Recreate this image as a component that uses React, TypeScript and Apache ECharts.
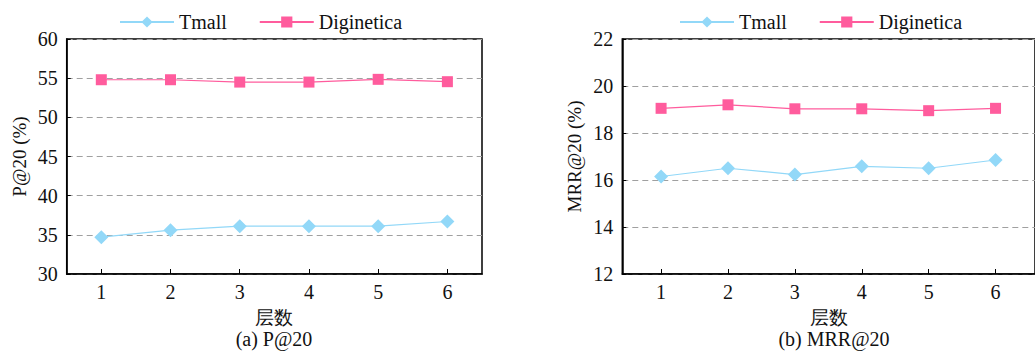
import React, { useEffect, useRef } from "react";
import * as echarts from "echarts";

const layers = [1, 2, 3, 4, 5, 6];
const seriesNames = ["Tmall", "Diginetica"];
const pTmall = [34.7, 35.6, 36.1, 36.1, 36.1, 36.7];
const pDiginetica = [54.8, 54.8, 54.5, 54.5, 54.85, 54.55];
const mrrTmall = [16.15, 16.5, 16.23, 16.58, 16.5, 16.85];
const mrrDiginetica = [19.05, 19.2, 19.03, 19.03, 18.95, 19.05];
const xName = "层数";
const captions = ["(a) P@20", "(b) MRR@20"];
const yNames = ["P@20 (%)", "MRR@20 (%)"];

const FONT = "Liberation Serif";
const BLUE = "#92d8f8";
const PINK = "#ff5c9d";

export default function App() {
  const ref = useRef<HTMLDivElement>(null);
  useEffect(() => {
    if (!ref.current) return;
    const chart = echarts.init(ref.current, null, { renderer: "svg" });
    const pair = (vals: number[]) => layers.map((l, i) => [l, vals[i]]);
    const xAxisBase = (gi: number, min: number, max: number) => ({
      type: "value",
      gridIndex: gi,
      min,
      max,
      name: xName,
      nameLocation: "middle",
      nameGap: 34,
      nameTextStyle: { fontFamily: FONT, fontSize: 19, color: "#111" },
      axisLine: { show: true, onZero: false, lineStyle: { color: "#000", width: 1.5 } },
      axisTick: { show: true, inside: true, length: 5, customValues: layers, lineStyle: { color: "#000" } },
      axisLabel: { customValues: layers, fontFamily: FONT, fontSize: 20, color: "#111", margin: 8 },
      splitLine: { show: false },
    });
    const yAxisBase = (gi: number, min: number, max: number, interval: number) => ({
      type: "value",
      gridIndex: gi,
      min,
      max,
      interval,
      name: yNames[gi],
      nameLocation: "middle",
      nameGap: 38,
      nameTextStyle: { fontFamily: FONT, fontSize: 19, color: "#111" },
      axisLine: { show: true, lineStyle: { color: "#000", width: 1.5 } },
      axisTick: { show: true, inside: true, length: 4, lineStyle: { color: "#000" } },
      axisLabel: { fontFamily: FONT, fontSize: 20, color: "#111", margin: 9 },
      splitLine: { show: true, lineStyle: { color: "#a0a0a0", type: [6, 4], width: 1 } },
    });
    const tmallStyle = {
      type: "line",
      symbol: "diamond",
      symbolSize: 14,
      itemStyle: { color: BLUE },
      lineStyle: { color: BLUE, width: 1.2 },
    };
    const digStyle = {
      type: "line",
      symbol: "rect",
      symbolSize: 11,
      itemStyle: { color: PINK },
      lineStyle: { color: PINK, width: 1.2 },
    };
    const legendBase = {
      data: seriesNames,
      itemWidth: 54,
      itemHeight: 14,
      itemGap: 32,
      top: 7,
      textStyle: { fontFamily: FONT, fontSize: 20, color: "#111" },
    };
    chart.setOption({
      animation: false,
      textStyle: { fontFamily: FONT },
      legend: [
        { ...legendBase, left: 114 },
        { ...legendBase, left: 674 },
      ],
      grid: [
        { left: 66.7, top: 39, width: 415.3, height: 235, show: true, borderColor: "#000", borderWidth: 1.5 },
        { left: 622.3, top: 39, width: 427.7, height: 235, show: true, borderColor: "#000", borderWidth: 1.5 },
      ],
      xAxis: [xAxisBase(0, 0.5, 6.5), xAxisBase(1, 0.42, 6.59)],
      yAxis: [yAxisBase(0, 30, 60, 5), yAxisBase(1, 12, 22, 2)],
      series: [
        { ...tmallStyle, name: seriesNames[0], xAxisIndex: 0, yAxisIndex: 0, data: pair(pTmall) },
        { ...digStyle, name: seriesNames[1], xAxisIndex: 0, yAxisIndex: 0, data: pair(pDiginetica) },
        { ...tmallStyle, name: seriesNames[0], xAxisIndex: 1, yAxisIndex: 1, data: pair(mrrTmall) },
        { ...digStyle, name: seriesNames[1], xAxisIndex: 1, yAxisIndex: 1, data: pair(mrrDiginetica) },
      ],
      graphic: [
        {
          type: "text",
          x: 274,
          y: 339,
          style: { text: captions[0], fontFamily: FONT, fontSize: 20, fill: "#111", textAlign: "center", textVerticalAlign: "middle" },
        },
        {
          type: "text",
          x: 834,
          y: 339,
          style: { text: captions[1], fontFamily: FONT, fontSize: 20, fill: "#111", textAlign: "center", textVerticalAlign: "middle" },
        },
      ],
    });
    return () => chart.dispose();
  }, []);
  return (
    <div
      ref={ref}
      style={{ position: "absolute", left: 0, top: 0, width: 1035, height: 352, background: "#fff" }}
    />
  );
}
